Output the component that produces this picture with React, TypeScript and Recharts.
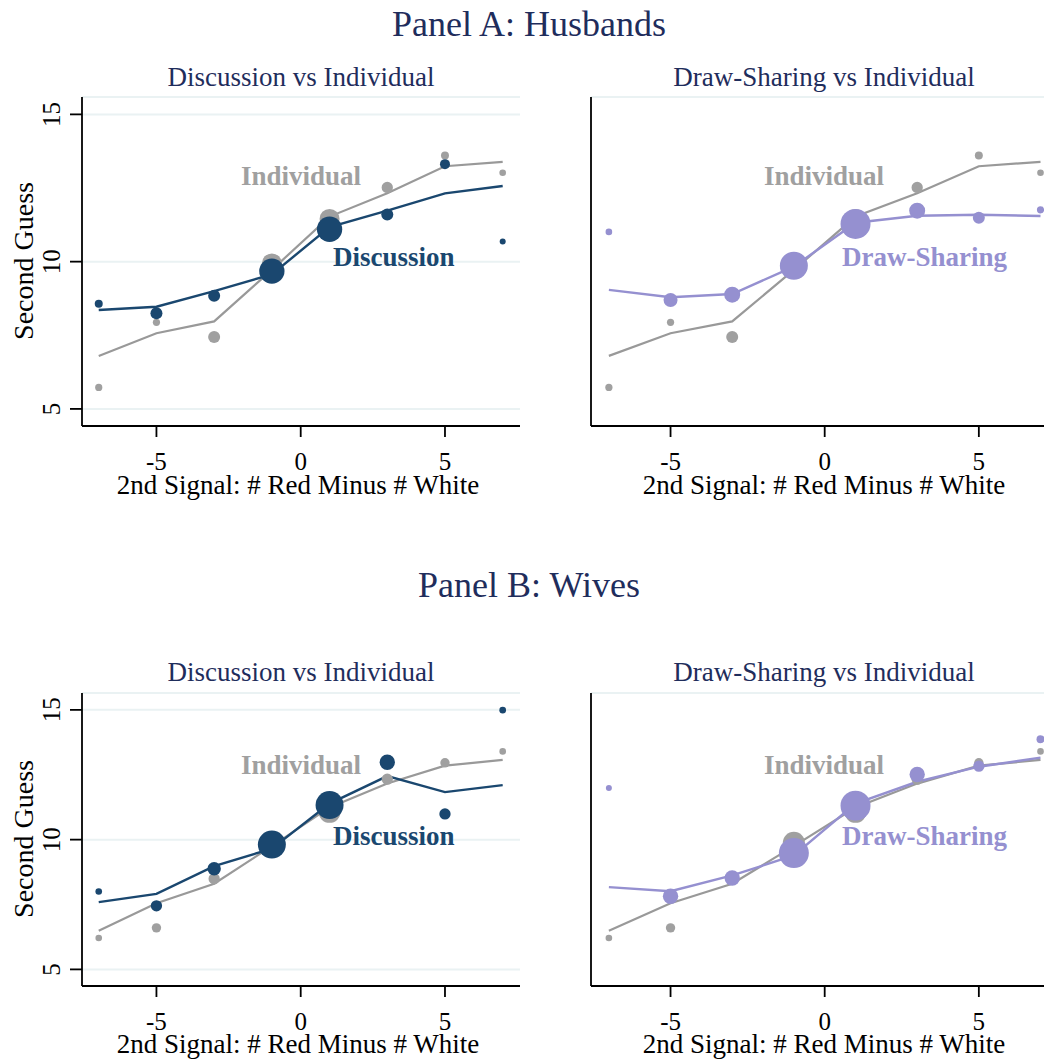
import React from "react";
import {
  ComposedChart,
  Scatter,
  Line,
  XAxis,
  YAxis,
  ZAxis,
  CartesianGrid,
} from "recharts";

// 2nd signal: # red minus # white
const SIGNAL = [-7, -5, -3, -1, 1, 3, 5, 7];

// Panel A: husbands
const husIndMean = [5.73, 7.94, 7.44, 9.94, 11.45, 12.52, 13.6, 13.02];
const husIndFit = [6.8, 7.57, 7.97, 9.72, 11.53, 12.32, 13.24, 13.39];
const husIndN = [13, 13, 36, 100, 100, 32, 16, 11];
const husDiscMean = [8.57, 8.25, 8.84, 9.68, 11.1, 11.6, 13.31, 10.68];
const husDiscFit = [8.36, 8.47, 9.0, 9.57, 11.17, 11.73, 12.32, 12.57];
const husDiscN = [16, 36, 36, 160, 160, 36, 25, 9];
const husDrawMean = [11.01, 8.7, 8.88, 9.86, 11.28, 11.73, 11.49, 11.76];
const husDrawFit = [9.04, 8.79, 8.9, 9.83, 11.32, 11.56, 11.59, 11.55];
const husDrawN = [11, 49, 64, 196, 225, 64, 36, 13];

// Panel B: wives
const wifIndMean = [6.21, 6.6, 8.49, 9.88, 11.07, 12.33, 12.96, 13.4];
const wifIndFit = [6.49, 7.55, 8.3, 9.75, 11.24, 12.16, 12.85, 13.07];
const wifIndN = [11, 22, 32, 121, 121, 32, 22, 11];
const wifDiscMean = [8.0, 7.45, 8.88, 9.81, 11.33, 12.98, 10.99, 14.99];
const wifDiscFit = [7.59, 7.91, 8.98, 9.65, 11.39, 12.45, 11.83, 12.1];
const wifDiscN = [11, 32, 45, 196, 196, 59, 32, 11];
const wifDrawMean = [11.99, 7.82, 8.52, 9.48, 11.31, 12.51, 12.83, 13.87];
const wifDrawFit = [8.17, 8.01, 8.62, 9.39, 11.39, 12.23, 12.81, 13.16];
const wifDrawN = [9, 59, 59, 225, 225, 59, 32, 16];

const Y_TICKS = [5, 10, 15];
const X_TICKS = [-5, 0, 5];

const NAVY = "#1a476f";
const GRAY = "#a0a0a0";
const LAV = "#9590d0";
const TITLE = "#1f2d5c";
const GRID = "#eaf2f3";
const FONT = "'Liberation Serif', 'Times New Roman', serif";

const pts = (means: number[], ns?: number[]) =>
  SIGNAL.map((x, i) => ({ x, y: means[i], n: ns ? ns[i] : 1 }));

const YTick = (p: any) => {
  const tx = p.x - 10;
  return (
    <text
      x={tx}
      y={p.y}
      transform={`rotate(-90 ${tx} ${p.y})`}
      textAnchor="middle"
      fontSize={25}
      fontFamily={FONT}
      fill="#000"
    >
      {p.payload.value}
    </text>
  );
};

const XTick = (p: any) => (
  <text
    x={p.x}
    y={p.y + 33}
    textAnchor="middle"
    fontSize={25}
    fontFamily={FONT}
    fill="#000"
  >
    {p.payload.value}
  </text>
);

type PanelProps = {
  left: number;
  top: number;
  width: number;
  height: number;
  marginTop: number;
  yWidth: number;
  yDomain: [number, number];
  showY: boolean;
  ind: { mean: number[]; fit: number[]; n: number[] };
  grp: { mean: number[]; fit: number[]; n: number[] };
  color: string;
};

function Panel(props: PanelProps) {
  const { left, top, width, height, marginTop, yWidth, yDomain, showY, ind, grp, color } = props;
  const axisStyle = { stroke: "#000", strokeWidth: 1.8 };
  return (
    <div style={{ position: "absolute", left, top }}>
      <ComposedChart
        width={width}
        height={height}
        margin={{ top: marginTop, right: 0, bottom: 0, left: 0 }}
      >
        <CartesianGrid vertical={false} stroke={GRID} strokeWidth={2} />
        <XAxis
          type="number"
          dataKey="x"
          domain={[-7.58, 7.6]}
          ticks={X_TICKS}
          height={84}
          tickSize={11}
          tickMargin={0}
          axisLine={axisStyle}
          tickLine={axisStyle}
          tick={XTick}
        />
        <YAxis
          type="number"
          dataKey="y"
          domain={yDomain}
          ticks={Y_TICKS}
          width={yWidth}
          tickSize={showY ? 12 : 0}
          tickMargin={0}
          axisLine={axisStyle}
          tickLine={showY ? axisStyle : false}
          tick={showY ? YTick : false}
        />
        <ZAxis type="number" dataKey="n" domain={[0, 250]} range={[0, 250 * Math.PI]} />
        <Scatter data={pts(ind.mean, ind.n)} dataKey="y" fill={GRAY} isAnimationActive={false} />
        <Scatter data={pts(grp.mean, grp.n)} dataKey="y" fill={color} isAnimationActive={false} />
        <Line
          data={pts(ind.fit)}
          dataKey="y"
          type="linear"
          stroke="#999999"
          strokeWidth={2.2}
          dot={false}
          activeDot={false}
          isAnimationActive={false}
        />
        <Line
          data={pts(grp.fit)}
          dataKey="y"
          type="linear"
          stroke={color}
          strokeWidth={2.4}
          dot={false}
          activeDot={false}
          isAnimationActive={false}
        />
      </ComposedChart>
    </div>
  );
}

const T = (p: any) => (
  <text fontFamily={FONT} textAnchor="middle" {...p}>
    {p.children}
  </text>
);

export default function App() {
  const husInd = { mean: husIndMean, fit: husIndFit, n: husIndN };
  const husDisc = { mean: husDiscMean, fit: husDiscFit, n: husDiscN };
  const husDraw = { mean: husDrawMean, fit: husDrawFit, n: husDrawN };
  const wifInd = { mean: wifIndMean, fit: wifIndFit, n: wifIndN };
  const wifDisc = { mean: wifDiscMean, fit: wifDiscFit, n: wifDiscN };
  const wifDraw = { mean: wifDrawMean, fit: wifDrawFit, n: wifDrawN };

  const rows = [
    { top: 0, mt: 97, h: 510, title: "Panel A: Husbands", yDomain: [4.42, 15.59] as [number, number], ind: husInd, disc: husDisc, draw: husDraw },
    { top: 580, mt: 113, h: 490, title: "Panel B: Wives", yDomain: [4.36, 15.65] as [number, number], ind: wifInd, disc: wifDisc, draw: wifDraw },
  ];
  // text baselines for each row
  const textRows = [
    { title: 36, sub: 86, xt: 494, yt: 261, ind: 185, grp: 266 },
    { title: 597, sub: 681, xt: 1053, yt: 839, ind: 774, grp: 845 },
  ];

  return (
    <div
      style={{
        position: "absolute",
        left: 0,
        top: 0,
        width: 1044,
        height: 1059,
        overflow: "hidden",
        background: "#fff",
      }}
    >
      {rows.map((r, i) => (
        <React.Fragment key={i}>
          <Panel
            left={0}
            top={r.top}
            width={520}
            height={r.h}
            marginTop={r.mt}
            yWidth={82}
            yDomain={r.yDomain}
            showY={true}
            ind={r.ind}
            grp={r.disc}
            color={NAVY}
          />
          <Panel
            left={560}
            top={r.top}
            width={499}
            height={r.h}
            marginTop={r.mt}
            yWidth={31}
            yDomain={r.yDomain}
            showY={false}
            ind={r.ind}
            grp={r.draw}
            color={LAV}
          />
        </React.Fragment>
      ))}
      <svg
        width={1044}
        height={1059}
        style={{ position: "absolute", left: 0, top: 0, pointerEvents: "none" }}
      >
        {rows.map((r, i) => {
          const t = textRows[i];
          return (
            <g key={i}>
              <T x={529} y={t.title} fontSize={36} fill={TITLE}>{r.title}</T>
              <T x={301} y={t.sub} fontSize={27} fill={TITLE}>Discussion vs Individual</T>
              <T x={824} y={t.sub} fontSize={27} fill={TITLE}>Draw-Sharing vs Individual</T>
              <T x={298} y={t.xt} fontSize={27} fill="#000">2nd Signal: # Red Minus # White</T>
              <T x={824} y={t.xt} fontSize={27} fill="#000">2nd Signal: # Red Minus # White</T>
              <T x={33} y={t.yt} fontSize={28} fill="#000" transform={`rotate(-90 33 ${t.yt})`}>Second Guess</T>
              <T x={241} y={t.ind} fontSize={27} fontWeight="bold" fill={GRAY} textAnchor="start">Individual</T>
              <T x={764} y={t.ind} fontSize={27} fontWeight="bold" fill={GRAY} textAnchor="start">Individual</T>
              <T x={333} y={t.grp} fontSize={27} fontWeight="bold" fill={NAVY} textAnchor="start">Discussion</T>
              <T x={842} y={t.grp} fontSize={27} fontWeight="bold" fill={LAV} textAnchor="start">Draw-Sharing</T>
            </g>
          );
        })}
      </svg>
    </div>
  );
}
